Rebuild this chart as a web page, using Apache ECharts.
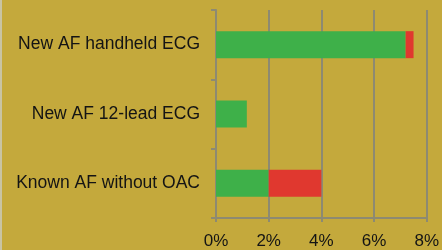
<!DOCTYPE html>
<html>
<head>
<meta charset="utf-8">
<script src="https://cdn.jsdelivr.net/npm/echarts@6/dist/echarts.min.js"></script>
<style>
  html, body { margin: 0; padding: 0; background: #c4a93c; }
  #main { width: 442px; height: 250px; }
</style>
</head>
<body>
<div id="main"></div>
<script>
// bottom to top, as echarts draws a category y axis
let categories = ['Known AF without OAC', 'New AF 12-lead ECG', 'New AF handheld ECG'];
let greenValues = [2.0, 1.17, 7.2];
let redValues = [2.0, 0, 0.3];
let tickLabels = ['0%', '2%', '4%', '6%', '8%'];

let myChart = echarts.init(document.getElementById('main'));
myChart.setOption({
    backgroundColor: '#c4a93c',
    animation: false,
    graphic: [
        {
            type: 'rect',
            left: 0,
            top: 0,
            shape: {width: 2, height: 250},
            style: {fill: '#c9c4a4'}
        }
    ],
    grid: {
        left: 216,
        right: 11,
        top: 10,
        bottom: 30
    },
    xAxis: {
        type: 'value',
        min: 0,
        max: 8,
        interval: 2,
        axisLine: {show: true, lineStyle: {color: '#8d8a72', width: 2}},
        axisTick: {show: true, length: 4, lineStyle: {color: '#8d8a72', width: 2}},
        splitLine: {show: true, lineStyle: {color: '#8d8a72', width: 2}},
        axisLabel: {
            formatter: function (v) { return tickLabels[v / 2]; },
            color: '#141414',
            fontSize: 17,
            fontFamily: 'Liberation Sans',
            margin: 15
        }
    },
    yAxis: {
        type: 'category',
        data: categories,
        axisLine: {show: true, lineStyle: {color: '#8d8a72', width: 2}},
        axisTick: {show: true, length: 5, lineStyle: {color: '#8d8a72', width: 2}},
        axisLabel: {
            color: '#141414',
            fontSize: 17.5,
            fontFamily: 'Liberation Sans',
            margin: 16
        }
    },
    series: [
        {
            name: 'green',
            type: 'bar',
            stack: 'total',
            barWidth: 27,
            itemStyle: {color: '#3eb049'},
            data: greenValues
        },
        {
            name: 'red',
            type: 'bar',
            stack: 'total',
            barWidth: 27,
            itemStyle: {color: '#e0382f'},
            data: redValues
        }
    ]
});
</script>
</body>
</html>
